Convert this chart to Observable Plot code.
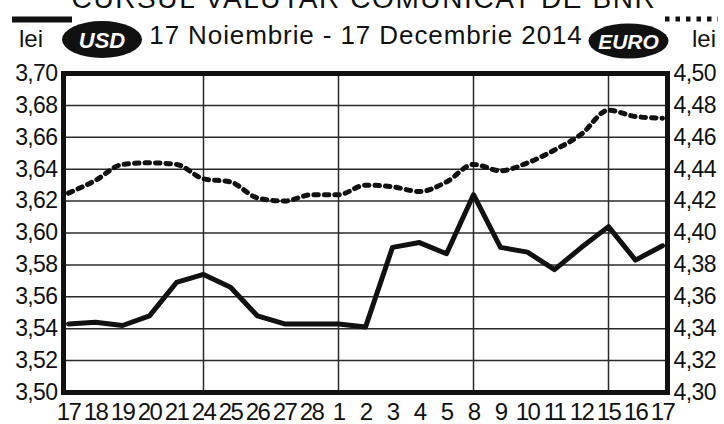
<!DOCTYPE html>
<html>
<head>
<meta charset="utf-8">
<script src="https://cdn.jsdelivr.net/npm/d3@7"></script>
<script src="https://cdn.jsdelivr.net/npm/@observablehq/plot@0.6"></script>
<style>
  html, body { margin: 0; padding: 0; background: #fff; }
  #chart { width: 724px; height: 424px; overflow: hidden; }
  g[aria-label="x-axis tick label"] text { letter-spacing: -1.6px; }
  g[aria-label="y-axis tick label"] text { letter-spacing: -0.6px; }
</style>
</head>
<body>
<div id="chart"></div>
<script>
// ---- data ----
const dayLabels = ["17","18","19","20","21","24","25","26","27","28","1","2","3","4","5","8","9","10","11","12","15","16","17"];
const usdValues = [3.543,3.544,3.542,3.548,3.569,3.574,3.566,3.548,3.543,3.543,3.543,3.541,3.591,3.594,3.587,3.624,3.591,3.588,3.577,3.591,3.604,3.583,3.592];
const eurValues = [4.425,4.433,4.443,4.444,4.443,4.434,4.432,4.422,4.420,4.424,4.424,4.430,4.429,4.426,4.432,4.443,4.439,4.444,4.452,4.462,4.477,4.473,4.472];
const usdTicks = [3.50,3.52,3.54,3.56,3.58,3.60,3.62,3.64,3.66,3.68,3.70];
const eurOffset = 0.80; // right axis 4,30–4,50 aligned with left 3,50–3,70
const titleText = "17 Noiembrie - 17 Decembrie 2014";
const headerText = "CURSUL VALUTAR COMUNICAT DE BNR";

const idx = d3.range(dayLabels.length);
// week starts: where the day number does not follow the previous one
const weekStarts = idx.filter(i => i > 0 && (+dayLabels[i]) !== (+dayLabels[i - 1]) + 1);
const fmt = v => v.toFixed(2).replace(".", ",");
const usdData = idx.map(i => ({i, v: usdValues[i]}));
const eurData = idx.map(i => ({i, v: eurValues[i] - eurOffset}));

const font = "'Liberation Sans', Arial, Helvetica, sans-serif";

const svg = Plot.plot({
  width: 724,
  height: 424,
  marginLeft: 63,
  marginRight: 57,
  marginTop: 73,
  marginBottom: 32,
  style: {fontFamily: font, fontSize: "23px", color: "#111", background: "#fff", overflow: "visible"},
  x: {type: "point", domain: idx, padding: 0, label: null},
  y: {domain: [3.50, 3.70], label: null},
  marks: [
    Plot.ruleY(usdTicks, {stroke: "#2a2a2a", strokeWidth: 1.5}),
    Plot.ruleX(weekStarts, {stroke: "#2a2a2a", strokeWidth: 1.5}),
    Plot.line(eurData, {x: "i", y: "v", stroke: "#111", strokeWidth: 5, strokeDasharray: "4.5,6", curve: "monotone-x"}),
    Plot.line(usdData, {x: "i", y: "v", stroke: "#111", strokeWidth: 5, strokeLinejoin: "round"}),
    Plot.frame({stroke: "#111", strokeWidth: 5}),
    Plot.axisY(usdTicks, {anchor: "left", label: null, tickSize: 0, tickPadding: 6, tickFormat: fmt, fontSize: 23}),
    Plot.axisY(usdTicks, {anchor: "right", label: null, tickSize: 0, tickPadding: 6, tickFormat: d => fmt(d + eurOffset), fontSize: 23}),
    Plot.axisX(idx, {anchor: "bottom", label: null, tickSize: 0, tickPadding: 10, tickFormat: i => dayLabels[i], fontSize: 24})
  ]
});

document.getElementById("chart").appendChild(svg);

// ---- header decorations ----
const s = d3.select(svg);
const h = s.append("g").attr("font-family", font).attr("fill", "#111");

// cut-off headline at the very top (as in the reference)
h.append("text").attr("x", 364).attr("y", 8).attr("text-anchor", "middle")
  .attr("font-size", 28).attr("letter-spacing", 1.6).text(headerText);

// legend sample lines
h.append("line").attr("x1", 12).attr("x2", 72).attr("y1", 19.5).attr("y2", 19.5)
  .attr("stroke", "#111").attr("stroke-width", 6);
h.append("line").attr("x1", 665).attr("x2", 718).attr("y1", 19).attr("y2", 19)
  .attr("stroke", "#111").attr("stroke-width", 5).attr("stroke-dasharray", "4.5,6");

// "lei" labels
h.append("text").attr("x", 31).attr("y", 47).attr("font-size", 24).text("lei");
h.append("text").attr("x", 716).attr("y", 47).attr("text-anchor", "end").attr("font-size", 24).text("lei");

// currency badges
h.append("ellipse").attr("cx", 102).attr("cy", 39.5).attr("rx", 40).attr("ry", 18.5).attr("fill", "#111");
h.append("text").attr("x", 102).attr("y", 47.5).attr("text-anchor", "middle").attr("fill", "#fff")
  .attr("font-size", 22).attr("font-weight", "bold").attr("font-style", "italic").text("USD");
h.append("ellipse").attr("cx", 628.5).attr("cy", 41).attr("rx", 40).attr("ry", 17.5).attr("fill", "#111");
h.append("text").attr("x", 628.5).attr("y", 48.5).attr("text-anchor", "middle").attr("fill", "#fff")
  .attr("font-size", 21).attr("font-weight", "bold").attr("font-style", "italic").text("EURO");

// title
h.append("text").attr("x", 366).attr("y", 44).attr("text-anchor", "middle")
  .attr("font-size", 26).attr("letter-spacing", 0.9).text(titleText);
</script>
</body>
</html>
